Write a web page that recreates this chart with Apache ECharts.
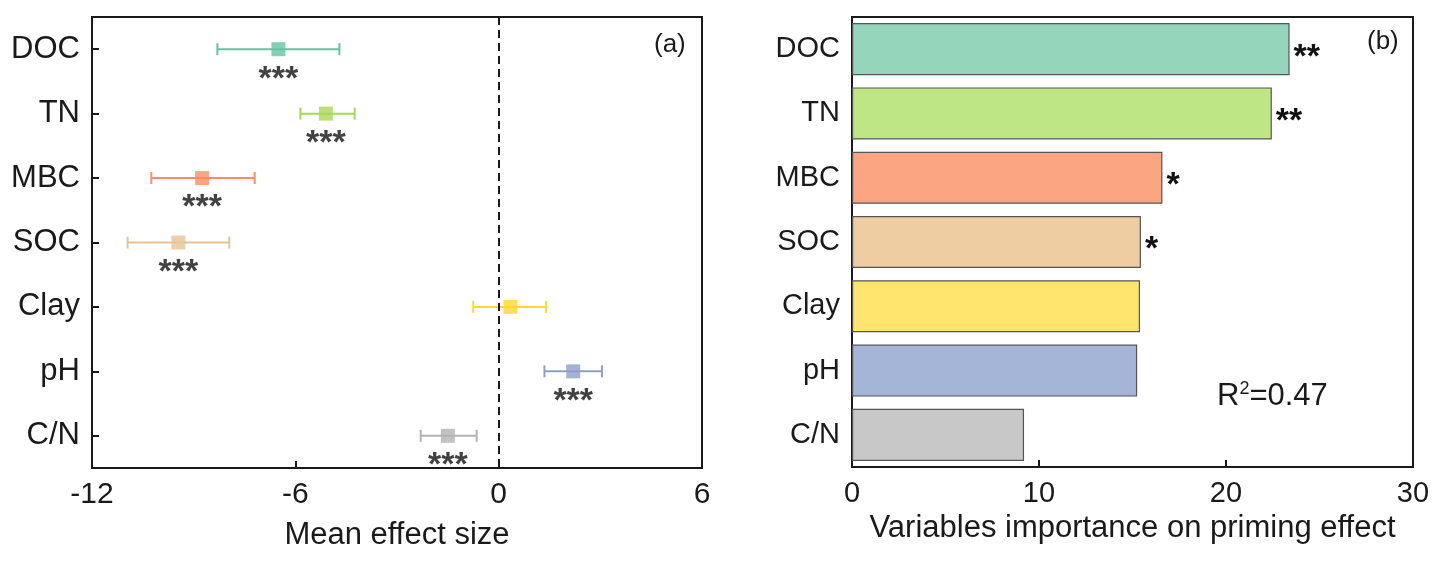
<!DOCTYPE html>
<html>
<head>
<meta charset="utf-8">
<script src="https://cdn.jsdelivr.net/npm/echarts@6/dist/echarts.min.js"></script>
<style>
  html, body { margin: 0; padding: 0; background: #fff; }
  #main { width: 1444px; height: 563px; }
</style>
</head>
<body>
<div id="main"></div>
<script>
// 变量
const categories = ['DOC', 'TN', 'MBC', 'SOC', 'Clay', 'pH', 'C/N'];
// (a) mean effect size and 95% CI
const effectMean = [-6.5, -5.1, -8.75, -9.45, 0.35, 2.2, -1.5];
const effectLow = [-8.3, -5.85, -10.25, -10.95, -0.75, 1.35, -2.3];
const effectHigh = [-4.7, -4.25, -7.2, -7.95, 1.4, 3.05, -0.65];
const effectSig = ['***', '***', '***', '***', '', '***', '***'];
// (b) variable importance
const importance = [23.4, 22.45, 16.6, 15.45, 15.4, 15.25, 9.2];
const importanceSig = ['**', '**', '*', '*', '', '', ''];
const effectTicks = { min: -12, max: 6, interval: 6 };
const importanceTicks = { min: 0, max: 30, interval: 10 };

const pointColors = ['#66c2a5', '#a6d854', '#fc8d62', '#e5c494', '#ffd92f', '#8da0cb', '#b3b3b3'];
const barColors = ['#95d5bb', '#bfe685', '#fca583', '#edcda1', '#ffe56d', '#a5b5d8', '#c8c8c8'];

const font = 'Liberation Sans, Arial, sans-serif';
const ink = '#1a1a1a';

const chart = echarts.init(document.getElementById('main'));

function valueAxis(gridIndex, ticks, name, nameGap, labelSize) {
  return {
    type: 'value',
    gridIndex: gridIndex,
    min: ticks.min,
    max: ticks.max,
    interval: ticks.interval,
    name: name,
    nameLocation: 'middle',
    nameGap: nameGap,
    nameTextStyle: { fontFamily: font, fontSize: 31, color: ink },
    axisLine: { show: true, onZero: false, lineStyle: { color: ink, width: 2 } },
    axisTick: { show: true, inside: true, length: 7, lineStyle: { color: ink, width: 2 } },
    axisLabel: { fontFamily: font, fontSize: labelSize, color: ink, margin: 12 },
    splitLine: { show: false }
  };
}

function catAxis(gridIndex, labelSize) {
  return {
    type: 'category',
    gridIndex: gridIndex,
    data: categories,
    inverse: true,
    axisLine: { show: true, onZero: false, lineStyle: { color: ink, width: 2 } },
    axisTick: { show: true, inside: true, alignWithLabel: true, length: 7, lineStyle: { color: ink, width: 2 } },
    axisLabel: { fontFamily: font, fontSize: labelSize, color: ink, margin: 12 }
  };
}

const errData = categories.map((c, i) => [c, effectLow[i], effectHigh[i]]);
const pointData = categories.map((c, i) => ({
  value: [effectMean[i], c],
  itemStyle: { color: pointColors[i] },
  label: { formatter: effectSig[i] }
}));
const barData = importance.map((v, i) => ({
  value: v,
  itemStyle: { color: barColors[i] },
  label: { formatter: importanceSig[i] }
}));

const option = {
  backgroundColor: '#fff',
  animation: false,
  grid: [
    { left: 92, top: 17, width: 610, height: 451, show: true, borderColor: ink, borderWidth: 2, backgroundColor: 'transparent' },
    { left: 852, top: 17, width: 561, height: 450, show: true, borderColor: ink, borderWidth: 2, backgroundColor: 'transparent' }
  ],
  xAxis: [
    valueAxis(0, effectTicks, 'Mean effect size', 52, 30),
    valueAxis(1, importanceTicks, 'Variables importance on priming effect', 36, 29)
  ],
  yAxis: [catAxis(0, 31), catAxis(1, 29)],
  graphic: [
    { type: 'text', left: 654, top: 32, style: { text: '(a)', font: '26px ' + font, fill: ink } },
    { type: 'text', left: 1367, top: 29, style: { text: '(b)', font: '26px ' + font, fill: ink } },
    {
      type: 'text', left: 1217, top: 380,
      style: {
        text: '{b|R}{s|2}{b|=0.47}',
        fill: ink,
        rich: {
          b: { fontFamily: font, fontSize: 31, fill: ink, verticalAlign: 'bottom' },
          s: { fontFamily: font, fontSize: 18, fill: ink, verticalAlign: 'top', padding: [0, 0, 14, 0] }
        }
      }
    }
  ],
  series: [
    {
      type: 'custom',
      xAxisIndex: 0,
      yAxisIndex: 0,
      encode: { x: [1, 2], y: 0 },
      data: errData,
      renderItem: function (params, api) {
        const i = params.dataIndex;
        const a = api.coord([api.value(1), api.value(0)]);
        const b = api.coord([api.value(2), api.value(0)]);
        const h = 6;
        const style = { stroke: pointColors[i], lineWidth: 2 };
        return {
          type: 'group',
          children: [
            { type: 'line', shape: { x1: a[0], y1: a[1], x2: b[0], y2: b[1] }, style: style },
            { type: 'line', shape: { x1: a[0], y1: a[1] - h, x2: a[0], y2: a[1] + h }, style: style },
            { type: 'line', shape: { x1: b[0], y1: b[1] - h, x2: b[0], y2: b[1] + h }, style: style }
          ]
        };
      },
      z: 2
    },
    {
      type: 'scatter',
      xAxisIndex: 0,
      yAxisIndex: 0,
      symbol: 'rect',
      symbolSize: 14,
      data: pointData,
      label: {
        show: true,
        position: 'bottom',
        distance: 6,
        fontFamily: font,
        fontSize: 34,
        fontWeight: 'bold',
        color: '#111'
      },
      markLine: {
        silent: true,
        symbol: 'none',
        label: { show: false },
        lineStyle: { color: ink, type: [8, 5], width: 2 },
        data: [{ xAxis: 0 }]
      },
      z: 3
    },
    {
      type: 'bar',
      xAxisIndex: 1,
      yAxisIndex: 1,
      data: barData,
      barCategoryGap: '19%',
      itemStyle: { borderColor: '#555', borderWidth: 1.2 },
      label: {
        show: true,
        position: 'right',
        distance: 4,
        offset: [0, 8],
        fontFamily: font,
        fontSize: 34,
        fontWeight: 'bold',
        color: '#111'
      }
    }
  ]
};

chart.setOption(option);
</script>
</body>
</html>
